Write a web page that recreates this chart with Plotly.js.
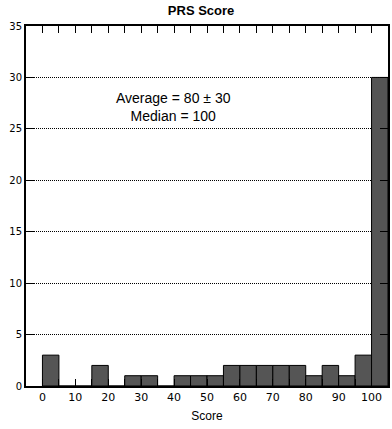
<!DOCTYPE html>
<html><head><meta charset="utf-8">
<script src="https://cdn.plot.ly/plotly-3.0.1.min.js"></script>
<style>html,body{margin:0;padding:0;background:#fff}</style>
</head><body><div id="chart" style="width:392px;height:429px"></div>
<script>
const binStarts = [0,5,10,15,20,25,30,35,40,45,50,55,60,65,70,75,80,85,90,95,100];
const counts    = [3,0,0,2,0,1,1,0,1,1,1,2,2,2,2,2,1,2,1,3,30];
const binWidth = 5;
const xTickVals = [0,5,10,15,20,25,30,35,40,45,50,55,60,65,70,75,80,85,90,95,100];
const xTickText = ['0','','10','','20','','30','','40','','50','','60','','70','','80','','90','','100'];
const yTickVals = [0,5,10,15,20,25,30,35];
const chartTitle = 'PRS Score';
const xTitle = 'Score';
const statsText = 'Average = 80 ± 30<br>Median = 100';

const trace = {
  type: 'bar', x: binStarts, y: counts, width: binWidth, offset: 0,
  marker: {color: '#555555', line: {color: '#000000', width: 1}},
  hoverinfo: 'none'
};
const layout = {
  width: 392, height: 429,
  margin: {l: 26, r: 4, t: 26, b: 43},
  paper_bgcolor: '#fff', plot_bgcolor: '#fff',
  showlegend: false,
  font: {family: 'Liberation Sans, Arial, sans-serif', color: '#000'},
  title: {text: '<b>' + chartTitle + '</b>', font: {size: 13, family: 'Liberation Sans, Arial, sans-serif'},
          x: 0.513, xref: 'container', y: 0.975, yref: 'container', yanchor: 'middle'},
  xaxis: {
    range: [-5, 105], tickmode: 'array', tickvals: xTickVals, ticktext: xTickText,
    ticks: 'inside', ticklen: 7, tickwidth: 1, tickcolor: '#000',
    showline: true, linewidth: 2, linecolor: '#000', mirror: 'ticks',
    showgrid: false, zeroline: false,
    tickfont: {size: 11, family: 'DejaVu Sans, sans-serif'},
    title: {text: xTitle, font: {size: 12}, standoff: 8}
  },
  yaxis: {
    range: [0, 35], tickmode: 'array', tickvals: yTickVals,
    ticks: 'inside', ticklen: 8, tickwidth: 1, tickcolor: '#000',
    showline: true, linewidth: 2, linecolor: '#000', mirror: 'ticks',
    showgrid: true, gridcolor: '#000', gridwidth: 1, griddash: '1px,1px',
    zeroline: false,
    tickfont: {size: 10, family: 'DejaVu Sans, sans-serif'}
  },
  annotations: [{
    text: statsText, xref: 'x', yref: 'y', x: 39.8, y: 27.1, showarrow: false,
    font: {size: 14, family: 'Liberation Sans, Arial, sans-serif'}, align: 'center'
  }]
};
Plotly.newPlot('chart', [trace], layout, {displayModeBar: false, staticPlot: true});
</script></body></html>
